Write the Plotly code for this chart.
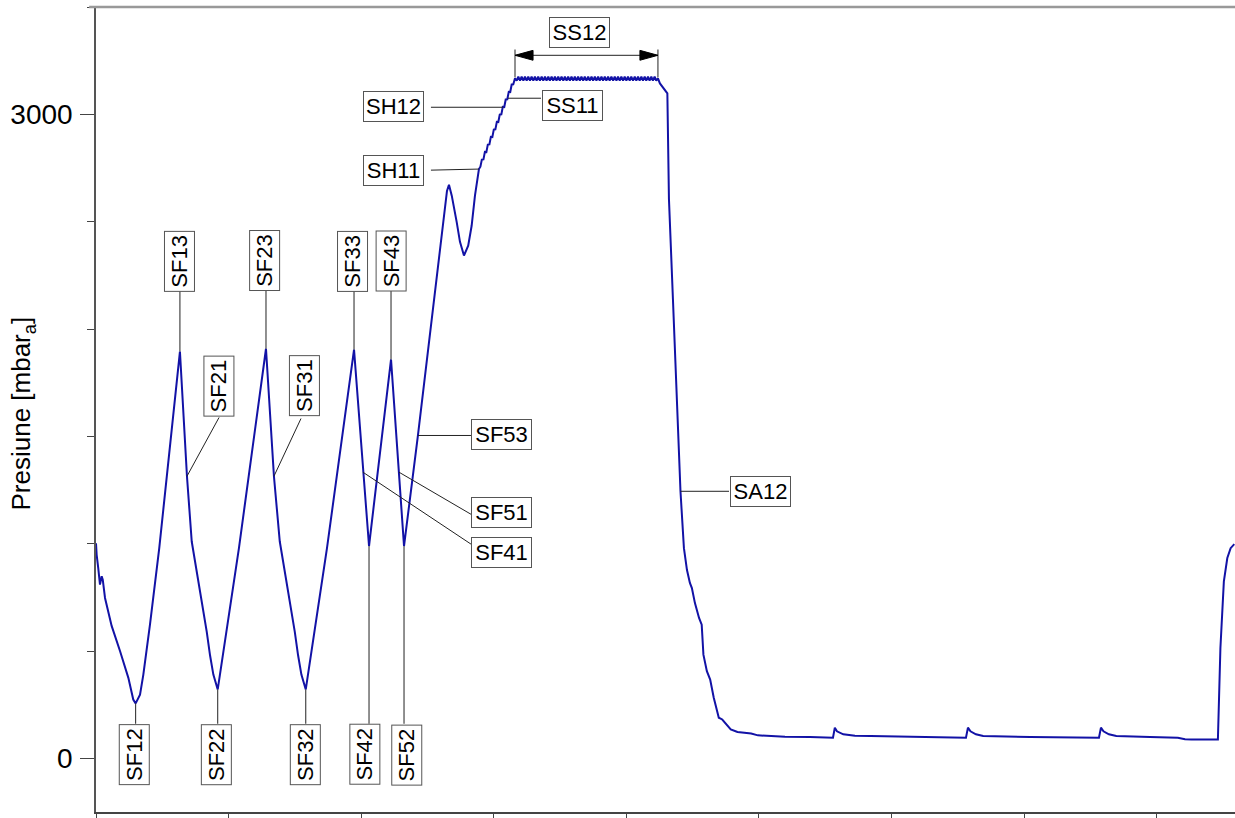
import plotly.graph_objects as go

# ---------------- data ----------------
# time axis (arbitrary units, ticks every 100) and pressure [mbar_a]
t_start = [0.0, 0.5, 1.7, 3.0, 4.3, 5.1, 6.8, 9.3, 11.8, 18.1, 24.4, 28.1, 29.9,
           33.2, 35.7, 40.7, 47.7, 63.3,
           68.6, 72.2, 78.4, 83.5, 86.0, 88.5, 91.8,
           94.8, 101.1, 107.8, 128.2,
           134.2, 138.6, 144.8, 149.9, 152.4, 154.9, 158.2,
           161.2, 167.5, 174.2, 194.6,
           201.3, 205.9, 222.5, 228.5, 232.3,
           242.8, 263.9, 264.7, 266.2, 268.3, 272.0, 274.5, 277.5, 280.7, 283.3, 285.8,
           288.8, 289.9, 291.0, 292.2, 293.3, 294.4, 295.5, 296.7, 297.8, 298.9, 300.0,
           301.2, 302.3, 303.4, 304.5, 305.7, 306.8, 307.9, 309.0, 310.2, 311.3, 312.4,
           313.5, 314.7]
p_start = [1002, 948, 886, 809, 848, 832, 747, 677, 617, 500, 375, 274, 256,
           297, 390, 623, 979, 1895,
           1314, 1010, 790, 590, 480, 390, 321,
           445, 700, 979, 1908,
           1314, 1010, 790, 590, 480, 390, 321,
           445, 700, 979, 1904,
           1333, 989, 1858, 1333, 989,
           1504, 2605, 2643, 2672, 2621, 2499, 2406, 2342, 2388, 2481, 2621,
           2745, 2756, 2789, 2790, 2825, 2824, 2859, 2860, 2895, 2894, 2929,
           2930, 2965, 2964, 2999, 3000, 3035, 3034, 3069, 3070, 3105, 3104,
           3139, 3140]

# plateau (SS12) with its small ripple
t_plateau = [316.0, 317.3, 318.5, 319.8, 321.0, 322.3, 323.5, 324.8, 326.0, 327.3,
             328.5, 329.8, 331.0, 332.3, 333.5, 334.8, 336.1, 337.3, 338.6, 339.8,
             341.1, 342.3, 343.6, 344.8, 346.1, 347.3, 348.6, 349.8, 351.1, 352.4,
             353.6, 354.9, 356.1, 357.4, 358.6, 359.9, 361.1, 362.4, 363.6, 364.9,
             366.1, 367.4, 368.6, 369.9, 371.2, 372.4, 373.7, 374.9, 376.2, 377.4,
             378.7, 379.9, 381.2, 382.4, 383.7, 384.9, 386.2, 387.4, 388.7, 390.0,
             391.2, 392.5, 393.7, 395.0, 396.2, 397.5, 398.7, 400.0, 401.2, 402.5,
             403.7, 405.0, 406.3, 407.5, 408.8, 410.0, 411.3, 412.5, 413.8, 415.0,
             416.3, 417.5, 418.8, 420.0, 421.3, 422.5, 423.8]
p_plateau = [3168, 3157, 3176, 3157, 3176, 3157, 3176, 3157, 3176, 3157,
             3176, 3157, 3176, 3157, 3176, 3157, 3176, 3157, 3176, 3157,
             3176, 3157, 3176, 3157, 3176, 3157, 3176, 3157, 3176, 3157,
             3176, 3157, 3176, 3157, 3176, 3157, 3176, 3157, 3176, 3157,
             3176, 3157, 3176, 3157, 3176, 3157, 3176, 3157, 3176, 3157,
             3176, 3157, 3176, 3157, 3176, 3157, 3176, 3157, 3176, 3157,
             3176, 3157, 3176, 3157, 3176, 3157, 3176, 3157, 3176, 3157,
             3176, 3157, 3176, 3157, 3176, 3157, 3176, 3157, 3176, 3157,
             3176, 3157, 3176, 3157, 3176, 3157, 3168]

# release (SA12) and the low-pressure tail
t_end = [425.3, 430.9, 432.1, 435.1, 438.1, 440.8, 443.4, 445.7, 447.9, 449.4,
         451.7, 454.8, 456.8, 458.1, 460.7, 463.2, 465.9, 469.7, 472.3, 478.7,
         483.8, 494.1, 499.2, 519.6, 538.5, 555.8, 557.2, 558.8, 563.6, 572.4,
         584.2, 621.4, 656.1, 657.6, 659.5, 663.6, 669.1, 704.4, 756.4, 757.9,
         759.8, 763.9, 769.5, 794.9, 815.9, 821.3, 826.2, 846.1, 848.0, 850.6,
         853.2, 855.7, 858.5]
p_end = [3144, 3098, 2605, 2140, 1676, 1244, 979, 877, 817, 793,
         723, 654, 623, 483, 406, 367, 282, 189, 181, 135,
         123, 116, 107, 101, 99, 96, 143, 126, 112, 105,
         104, 101, 96, 143, 126, 112, 104, 99, 96, 143,
         126, 112, 104, 99, 96, 89, 88, 88, 514, 824,
         933, 979, 998]

time_s = t_start + t_plateau + t_end
pressure = p_start + p_plateau + p_end

y_ticks = [0, 3000]
y_tick_text = ["0", "3000"]

# label name, point on curve, leader end at box, box centre, vertical box
labels = [
    ("SF12", (29.9, 256), (29.9, 161), (29.0, 17), True),
    ("SF13", (63.3, 1895), (63.3, 2177), (63.3, 2317), True),
    ("SF21", (68.6, 1314), (92.8, 1588), (92.4, 1734), True),
    ("SF22", (91.8, 321), (91.8, 161), (90.9, 17), True),
    ("SF23", (128.2, 1908), (128.2, 2177), (127.5, 2317), True),
    ("SF31", (134.2, 1314), (154.6, 1583), (156.9, 1734), True),
    ("SF32", (158.2, 321), (158.2, 161), (158.0, 17), True),
    ("SF33", (194.6, 1904), (194.6, 2177), (193.8, 2317), True),
    ("SF42", (205.9, 989), (205.9, 161), (202.9, 17), True),
    ("SF43", (222.5, 1858), (222.5, 2177), (222.9, 2317), True),
    ("SF52", (232.3, 989), (232.3, 161), (234.5, 17), True),
    ("SF41", (201.3, 1333), (282.8, 998), (305.8, 960), False),
    ("SF51", (228.5, 1333), (282.8, 1137), (305.8, 1144), False),
    ("SF53", (242.8, 1504), (282.8, 1504), (305.8, 1509), False),
    ("SH11", (288.8, 2745), (252.6, 2740), (224.4, 2738), False),
    ("SH12", (306.9, 3033), (252.6, 3033), (224.4, 3035), False),
    ("SS11", (310.7, 3075), (335.6, 3075), (359.0, 3042), False),
    ("SA12", (440.8, 1244), (477.4, 1244), (501.1, 1242), False),
]
span_label = ("SS12", (364.6, 3381))

# ---------------- figure ----------------
FONT = "Arial, Liberation Sans, sans-serif"
LINE = "#1212A6"

fig = go.Figure()
fig.add_trace(go.Scatter(x=time_s, y=pressure, mode="lines",
                         line=dict(color=LINE, width=2), hoverinfo="skip",
                         showlegend=False))

shapes = []
annotations = []
for name, pt, lead, box, vertical in labels:
    shapes.append(dict(type="line", xref="x", yref="y", x0=pt[0], y0=pt[1],
                       x1=lead[0], y1=lead[1], line=dict(color="#222", width=1)))
    annotations.append(dict(x=box[0], y=box[1], xref="x", yref="y", text=name,
                            showarrow=False, textangle=-90 if vertical else 0,
                            font=dict(family=FONT, size=22, color="black"),
                            bgcolor="white", bordercolor="#555", borderwidth=1,
                            borderpad=1, width=57, height=27,
                            xanchor="center", yanchor="middle"))

# SS12 dimension (spans the plateau)
x_a, x_b = t_plateau[0], t_plateau[-1]
y_dim, y_bar0, y_bar1 = 3275, 3172, 3302
for xv in (x_a, x_b):
    shapes.append(dict(type="line", xref="x", yref="y", x0=xv, x1=xv, y0=y_bar0, y1=y_bar1,
                       line=dict(color="#222", width=1)))
shapes.append(dict(type="line", xref="x", yref="y", x0=x_a, x1=x_b, y0=y_dim, y1=y_dim,
                   line=dict(color="#222", width=1)))
head_len, head_half = 13.6, 23
shapes.append(dict(type="path", xref="x", yref="y",
                   path=f"M{x_a},{y_dim} L{x_a + head_len},{y_dim + head_half} L{x_a + head_len},{y_dim - head_half} Z",
                   fillcolor="black", line=dict(color="black", width=1)))
shapes.append(dict(type="path", xref="x", yref="y",
                   path=f"M{x_b},{y_dim} L{x_b - head_len},{y_dim + head_half} L{x_b - head_len},{y_dim - head_half} Z",
                   fillcolor="black", line=dict(color="black", width=1)))
annotations.append(dict(x=span_label[1][0], y=span_label[1][1], xref="x", yref="y",
                        text=span_label[0], showarrow=False,
                        font=dict(family=FONT, size=22, color="black"),
                        bgcolor="white", bordercolor="#555", borderwidth=1,
                        borderpad=1, width=57, height=27))

# top frame line
shapes.append(dict(type="line", xref="paper", yref="paper", x0=-0.006, x1=1, y0=1, y1=1,
                   line=dict(color="#999", width=2.5)))

# y title
annotations.append(dict(x=0, y=0.495, xref="paper", yref="paper", xshift=-73,
                        text="Presiune [mbar<sub>a</sub>]", textangle=-90, showarrow=False,
                        font=dict(family=FONT, size=26, color="black"),
                        xanchor="center", yanchor="middle"))

fig.update_layout(
    width=1235, height=818,
    margin=dict(l=96, r=0, t=7, b=4),
    paper_bgcolor="white", plot_bgcolor="white",
    shapes=shapes, annotations=annotations,
    xaxis=dict(range=[0, 859], tick0=0, dtick=100, ticks="outside", ticklen=6,
               tickwidth=1.2, tickcolor="#444", showticklabels=False,
               showline=True, linecolor="#444", linewidth=1.5,
               showgrid=False, zeroline=False),
    yaxis=dict(range=[-250, 3500], tickmode="array", tickvals=y_ticks,
               ticktext=y_tick_text, ticks="outside", ticklen=14, tickwidth=1.2,
               tickcolor="#444", ticklabelstandoff=2,
               tickfont=dict(family=FONT, size=28, color="black"),
               minor=dict(dtick=500, tick0=0, ticks="outside", ticklen=7,
                          tickcolor="#444", tickwidth=1.2),
               showline=True, linecolor="#555", linewidth=1.5,
               showgrid=False, zeroline=False),
)

# remove the default page margin so the figure sits at the window's origin
fig.write_html("out.html", config={"displayModeBar": False},
               post_script="document.body.style.margin='0';document.body.style.overflow='hidden';")
